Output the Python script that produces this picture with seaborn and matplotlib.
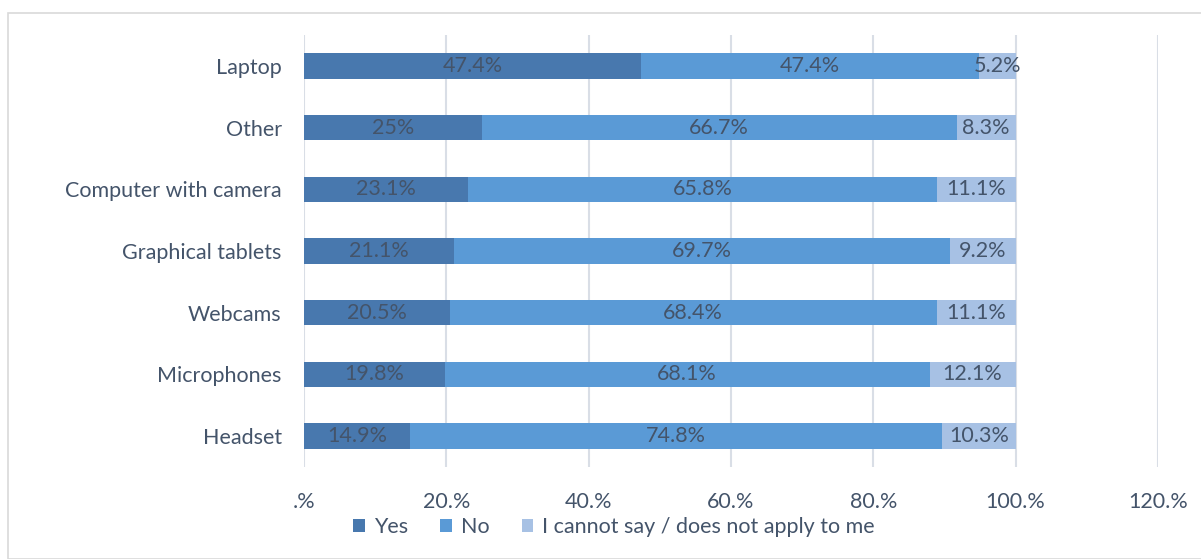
import matplotlib
matplotlib.use("Agg")
import matplotlib.pyplot as plt
import seaborn as sns
import pandas as pd
import numpy as np
from matplotlib.patches import Rectangle, Patch

categories = ["Laptop", "Other", "Computer with camera", "Graphical tablets",
              "Webcams", "Microphones", "Headset"]
yes_vals = [47.4, 25.0, 23.1, 21.1, 20.5, 19.8, 14.9]
no_vals = [47.4, 66.7, 65.8, 69.7, 68.4, 68.1, 74.8]
cant_vals = [5.2, 8.3, 11.1, 9.2, 11.1, 12.1, 10.3]
yes_labels = ["47.4%", "25%", "23.1%", "21.1%", "20.5%", "19.8%", "14.9%"]
no_labels = ["47.4%", "66.7%", "65.8%", "69.7%", "68.4%", "68.1%", "74.8%"]
cant_labels = ["5.2%", "8.3%", "11.1%", "9.2%", "11.1%", "12.1%", "10.3%"]
series_names = ["Yes", "No", "I cannot say / does not apply to me"]
xticks = [0, 20, 40, 60, 80, 100, 120]
xtick_labels = [".%", "20.%", "40.%", "60.%", "80.%", "100.%", "120.%"]

c_yes = "#4878ae"
c_no = "#5a9ad6"
c_cant = "#a7c1e4"
txt = "#44546a"
fs = 15.5

sns.set_theme(style="white")
plt.rcParams["font.family"] = ["Lato", "DejaVu Sans"]

df = pd.DataFrame({"cat": categories, "yes": yes_vals, "no": no_vals, "cant": cant_vals})
df["c1"] = df["yes"]
df["c2"] = df["yes"] + df["no"]
df["c3"] = df["c2"] + df["cant"]

fig = plt.figure(figsize=(12.01, 5.59), dpi=100)
ax = fig.add_axes([304/1201, 1-467/559, (1158-304)/1201, 432/559])

for col, color in [("c3", c_cant), ("c2", c_no), ("c1", c_yes)]:
    sns.barplot(data=df, x=col, y="cat", order=categories, color=color,
                width=0.41, ax=ax, saturation=1, linewidth=0, zorder=3)

for i, row in df.iterrows():
    ax.text(row["yes"]/2, i, yes_labels[i], ha="center", va="center", fontsize=fs, color=txt, zorder=5)
    ax.text(row["yes"] + row["no"]/2, i, no_labels[i], ha="center", va="center", fontsize=fs, color=txt, zorder=5)
    ax.text(row["c2"] + row["cant"]/2, i, cant_labels[i], ha="center", va="center", fontsize=fs, color=txt, zorder=5)

ax.set_xlim(0, 120)
ax.set_ylim(6.5, -0.5)
ax.set_xticks(xticks)
ax.set_xticklabels(xtick_labels, fontsize=fs, color=txt)
ax.tick_params(axis="y", labelsize=fs, labelcolor=txt, length=0, pad=16)
ax.tick_params(axis="x", length=0, pad=18)
ax.set_xlabel("")
ax.set_ylabel("")
ax.grid(axis="x", color="#d9dee6", linewidth=1.5, zorder=0)
ax.set_axisbelow(True)
for s in ax.spines.values():
    s.set_visible(False)

handles = [Patch(facecolor=c, edgecolor="none") for c in (c_yes, c_no, c_cant)]
fig.legend(handles, series_names, loc="center", bbox_to_anchor=(614/1201, 1-527/559),
           ncol=3, frameon=False, fontsize=fs, handlelength=0.55, handleheight=0.55,
           handletextpad=0.4, columnspacing=1.5, labelcolor=txt)

fig.patches.append(Rectangle((8/1201, 0), 1, 1-13/559, transform=fig.transFigure,
                             fill=False, edgecolor="#d9d9d9", linewidth=1.2))

fig.savefig("out.png", dpi=100)
